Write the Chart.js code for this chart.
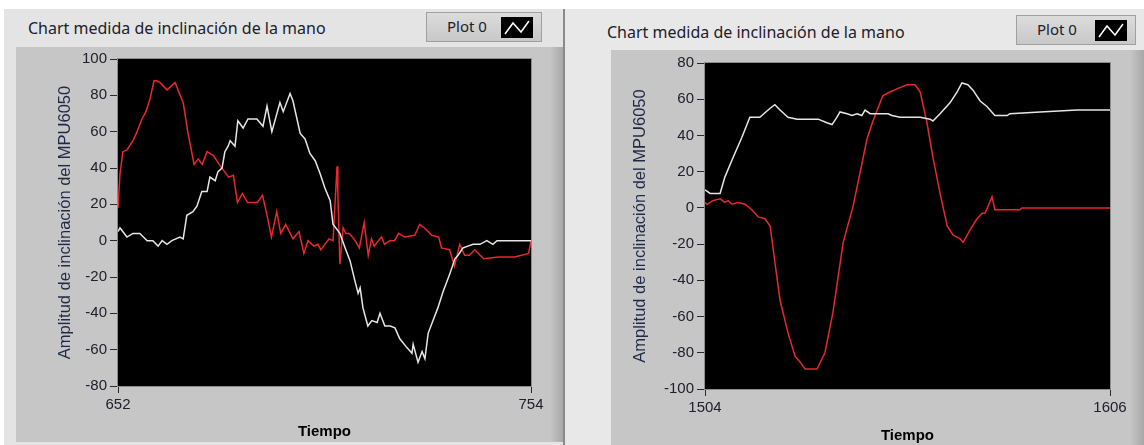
<!DOCTYPE html>
<html>
<head>
<meta charset="utf-8">
<script src="https://cdn.jsdelivr.net/npm/chart.js@4.4.1/dist/chart.umd.min.js"></script>
<style>
  body { margin: 0; width: 1144px; height: 445px; background: #fff; overflow: hidden;
         position: relative; font-family: "Noto Sans", sans-serif; }
  .outer { position: absolute; background: #e4e4e4; }
  .inner { position: absolute; background: #c6c6c6; }
  .edge { position: absolute; background: linear-gradient(to right, #c6c6c6, #a8a8a8); }
  .title { position: absolute; font-size: 16px; color: #20202a; white-space: nowrap; }
  .legend { position: absolute; height: 30px; background: linear-gradient(#dcdcdc, #c8c8c8);
            border: 1px solid #a0a0a0; box-sizing: border-box; }
  .legend span { position: absolute; left: 20px; top: 3px; font-size: 15px; color: #20202a; }
  .legend .icon { position: absolute; right: 8px; top: 4px; width: 32px; height: 21px; background: #000; }
  canvas { position: absolute; }
</style>
</head>
<body>

<div class="outer" style="left:4px; top:9px; width:559px; height:436px;"></div>
<div class="inner" style="left:16px; top:47px; width:534px; height:395px;"></div>
<div class="edge" style="left:550px; top:47px; width:13px; height:395px;"></div>
<div style="position:absolute; left:563px; top:9px; width:2px; height:436px; background:#8a8a8a;"></div>
<div class="outer" style="left:565px; top:9px; width:579px; height:436px; background:#e8e8e8;"></div>
<div class="inner" style="left:611px; top:50px; width:519px; height:395px;"></div>
<div class="edge" style="left:1130px; top:50px; width:14px; height:395px;"></div>

<div class="title" style="left:28px; top:17px;">Chart medida de inclinación de la mano</div>
<div class="title" style="left:607px; top:21px;">Chart medida de inclinación de la mano</div>

<div class="legend" style="left:426px; top:12px; width:116px;">
  <span>Plot 0</span>
  <div class="icon"><svg width="32" height="21"><polyline points="4,17 12,6 20,15 28,4" fill="none" stroke="#fff" stroke-width="1.5"/></svg></div>
</div>
<div class="legend" style="left:1016px; top:15px; width:120px;">
  <span>Plot 0</span>
  <div class="icon"><svg width="32" height="21"><polyline points="4,17 12,6 20,15 28,4" fill="none" stroke="#fff" stroke-width="1.5"/></svg></div>
</div>

<canvas id="leftChart" style="left:16px; top:47px;" width="547" height="395"></canvas>
<canvas id="rightChart" style="left:611px; top:50px;" width="519" height="395"></canvas>

<script>
// Left chart (Tiempo 652 - 754)
let leftXTicks = [652, 754]
let leftYRange = [-80, 100]
let leftRedTime = [652, 652.5, 653.2, 654.2, 655.7, 656.7, 657.9, 658.9, 659.9, 660.9, 661.6, 662.4, 664.1, 666.1,
    668.1, 669.3, 670.8, 671.8, 672.8, 674.0, 675.5, 677.3, 678.3, 679.3, 680.5, 681.5, 682.7, 684.0, 686.4, 687.7,
    688.7, 689.9, 691.2, 692.2, 693.4, 695.2, 696.7, 697.9, 698.9, 700.4, 701.4, 702.1, 704.1, 705.1, 706.1, 706.3,
    706.8, 707.6, 708.3, 709.1, 710.3, 711.6, 712.8, 713.8, 714.6, 715.3, 716.3, 717.1, 717.8, 719.1, 720.3, 721.3,
    722.8, 725.3, 726.5, 727.7, 729.5, 731.2, 731.9, 733.9, 735.1, 736.4, 737.6, 738.8, 740.1, 742.3, 746.0, 750.0,
    753.4, 754]
let leftRedValue = [18, 37, 49, 50, 55, 60, 67, 71, 78, 88, 88, 87, 83, 87,
    76, 59, 42, 45, 42, 49, 47, 41, 38, 35, 36, 21, 26, 21, 21, 25,
    15, 2, 16, 4, 9, 1, 5, -7, 0, -3, -2, -5, 1, 0, 41, 26,
    -13, 7, 4, 4, 1, -4, 10, -8, 1, -3, 0, 2, -2, 0, 0, 4,
    2, 3, 9, 7, 3, 2, -4, -5, -14, -2, -8, -8, -5, -10, -9, -9,
    -7, 0]
let leftWhiteTime = [652, 652.5, 654.2, 655.7, 657.4, 659.2, 660.6, 661.9, 662.9, 664.1, 665.3, 667.3, 668.1, 669.0,
    670.5, 671.5, 672.7, 674.0, 674.7, 676.0, 676.7, 677.7, 678.4, 679.2, 679.7, 680.9, 681.6, 682.9, 684.1, 686.3,
    687.8, 688.8, 690.0, 692.0, 692.8, 694.5, 695.2, 697.0, 698.2, 699.4, 700.7, 701.9, 703.1, 704.4, 705.1, 706.8,
    708.1, 709.3, 710.5, 711.3, 711.8, 712.5, 713.7, 714.7, 716.0, 716.7, 717.9, 719.2, 720.4, 721.6, 723.4, 724.6,
    724.9, 726.1, 727.1, 727.8, 728.6, 729.8, 731.0, 732.3, 734.0, 735.2, 736.0, 737.2, 738.4, 739.7, 741.4, 743.1,
    744.6, 745.6, 754]
let leftWhiteValue = [5, 7, 2, 4, 4, 0, 0, -3, 0, -2, 0, 2, 1, 14,
    16, 19, 27, 27, 35, 33, 38, 40, 49, 52, 55, 52, 66, 62, 67, 67,
    63, 74, 60, 76, 71, 81, 77, 59, 56, 48, 44, 37, 29, 22, 9, 4,
    -4, -11, -22, -29, -26, -37, -47, -44, -45, -40, -47, -47, -48, -54, -59, -62,
    -57, -67, -61, -65, -51, -44, -37, -28, -18, -10, -8, -4, -3, -2, -2, 0,
    -2, 0, 0]

// Right chart (Tiempo 1504 - 1606)
let rightXTicks = [1504, 1606]
let rightYRange = [-100, 80]
let rightRedTime = [1504, 1504.5, 1506.0, 1507.8, 1509.0, 1509.8, 1510.8, 1512.3, 1514.1, 1515.8, 1517.4, 1519.1,
    1520.4, 1521.6, 1522.9, 1524.9, 1526.7, 1527.9, 1529.2, 1532.2, 1534.2, 1536.2, 1538.8, 1541.3, 1544.8, 1546.3,
    1548.8, 1550.6, 1552.6, 1554.9, 1556.9, 1558.2, 1559.9, 1561.4, 1563.2, 1565.0, 1566.5, 1568.2, 1569.0, 1570.8,
    1572.5, 1573.8, 1574.5, 1576.3, 1577.0, 1583.3, 1583.8, 1606]
let rightRedValue = [3, 2, 4, 5, 3, 4, 2, 3, 2, -1, -5, -6,
    -10, -30, -51, -69, -82, -85, -89, -89, -80, -58, -19, 1, 38, 48,
    62, 64, 66, 68, 68, 64, 47, 28, 8, -10, -15, -17, -19, -12,
    -6, -3, -3, 6, -1, -1, 0, 0]
let rightWhiteTime = [1504, 1505.3, 1507.8, 1509.0, 1511.1, 1513.3, 1515.3, 1516.6, 1517.8, 1520.4, 1521.6, 1522.9,
    1524.9, 1527.2, 1529.7, 1532.5, 1534.7, 1536.0, 1537.2, 1538.0, 1539.8, 1541.0, 1542.3, 1543.5, 1544.3, 1545.6,
    1548.1, 1550.1, 1551.1, 1553.1, 1558.2, 1560.7, 1561.4, 1563.2, 1565.7, 1567.5, 1568.7, 1570.2, 1571.5, 1573.3,
    1575.0, 1577.0, 1580.1, 1580.8, 1588.4, 1597.7, 1606]
let rightWhiteValue = [10, 8, 8, 17, 28, 39, 50, 50, 50, 55, 57, 54,
    50, 49, 49, 49, 47, 46, 50, 53, 52, 51, 52, 51, 54, 52,
    52, 52, 51, 50, 50, 49, 48, 52, 58, 64, 69, 68, 65, 59,
    56, 51, 51, 52, 53, 54, 54]

let textColor = '#20202e'

// Black plot area with a thin gray frame, like the LabVIEW chart
let plotArea = {
    id: 'plotArea',
    beforeDraw: function (chart) {
        let a = chart.chartArea
        let ctx = chart.ctx
        ctx.save()
        ctx.fillStyle = '#000'
        ctx.fillRect(a.left, a.top, a.width, a.height)
        ctx.restore()
    },
    afterDraw: function (chart) {
        let a = chart.chartArea
        let ctx = chart.ctx
        ctx.save()
        ctx.strokeStyle = '#8c8c8c'
        ctx.lineWidth = 1
        ctx.strokeRect(a.left - 0.5, a.top - 0.5, a.width + 1, a.height + 1)
        ctx.restore()
    }
}

function toPoints(times, values) {
    return times.map(function (t, i) { return {x: t, y: values[i]} })
}

function makeChart(id, xTicks, yRange, redT, redV, whiteT, whiteV, box) {
    let canvas = document.getElementById(id)
    return new Chart(canvas.getContext('2d'), {
        type: 'line',
        data: {
            datasets: [
                {data: toPoints(whiteT, whiteV), borderColor: '#e6e6e6', borderWidth: 1.5, pointRadius: 0, tension: 0},
                {data: toPoints(redT, redV), borderColor: '#e8282c', borderWidth: 1.5, pointRadius: 0, tension: 0}
            ]
        },
        options: {
            responsive: false,
            animation: false,
            events: [],
            layout: {padding: {left: 0, top: box.top, right: box.right, bottom: 0}},
            plugins: {legend: {display: false}, tooltip: {enabled: false}},
            scales: {
                x: {
                    type: 'linear',
                    min: xTicks[0],
                    max: xTicks[xTicks.length - 1],
                    afterBuildTicks: function (s) { s.ticks = xTicks.map(function (v) { return {value: v} }) },
                    afterFit: function (s) { s.height = box.xHeight },
                    grid: {drawOnChartArea: false, tickLength: 7, color: '#2a2a2a'},
                    border: {display: false},
                    ticks: {font: {size: 15}, color: textColor, padding: 3, maxRotation: 0, autoSkip: false,
                        callback: function (v) { return String(v) }},
                    title: {display: true, text: 'Tiempo', color: '#000', font: {size: 15, weight: 'bold'},
                        padding: {top: 0, bottom: box.xTitlePad}}
                },
                y: {
                    min: yRange[0],
                    max: yRange[1],
                    afterFit: function (s) { s.width = box.yWidth },
                    grid: {drawOnChartArea: false, tickLength: 8, color: '#2a2a2a'},
                    border: {display: false},
                    ticks: {stepSize: 20, font: {size: 15}, color: textColor, padding: 3},
                    title: {display: true, text: 'Amplitud de inclinación del MPU6050', color: '#1e2a48',
                        font: {size: 16.5}, padding: {top: box.yTitlePad, bottom: 0}}
                }
            }
        },
        plugins: [plotArea]
    })
}

makeChart('leftChart', leftXTicks, leftYRange, leftRedTime, leftRedValue, leftWhiteTime, leftWhiteValue,
    {top: 11, right: 32, xHeight: 56, yWidth: 102, yTitlePad: 40, xTitlePad: 1})
makeChart('rightChart', rightXTicks, rightYRange, rightRedTime, rightRedValue, rightWhiteTime, rightWhiteValue,
    {top: 13, right: 20, xHeight: 56, yWidth: 94, yTitlePad: 20, xTitlePad: 0})
</script>
</body>
</html>
